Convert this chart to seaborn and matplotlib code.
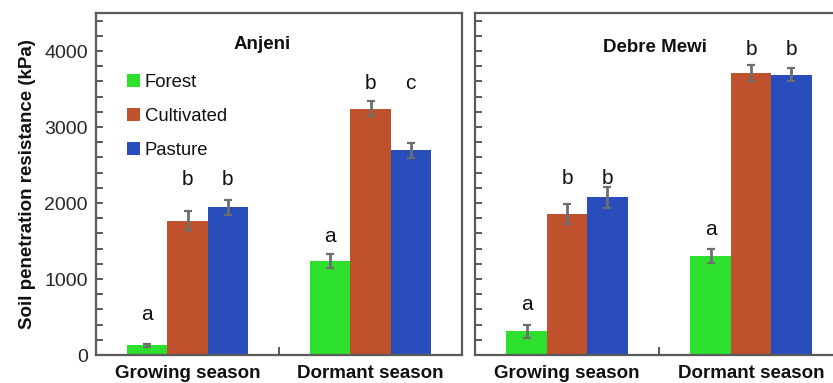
import matplotlib
matplotlib.use("Agg")
import matplotlib.pyplot as plt
import matplotlib.transforms as mtransforms
import numpy as np
import pandas as pd
import seaborn as sns
from matplotlib.ticker import MultipleLocator, FixedLocator

# ---- data -------------------------------------------------------------
seasons = ["Growing season", "Dormant season"]
land_uses = ["Forest", "Cultivated", "Pasture"]
palette = ["#2EE02E", "#BF512C", "#2A4DBC"]

# mean soil penetration resistance (kPa), per season: Forest, Cultivated, Pasture
anjeni_growing = [130, 1766, 1941]
anjeni_dormant = [1235, 3242, 2694]
anjeni_growing_se = [20, 125, 100]
anjeni_dormant_se = [88, 95, 100]

debre_growing = [315, 1853, 2077]
debre_dormant = [1301, 3711, 3685]
debre_growing_se = [85, 135, 140]
debre_dormant_se = [90, 110, 85]

# significance letters and the baseline height (kPa) they are written at
anjeni_letters = [["a", "b", "b"], ["a", "b", "c"]]
anjeni_letter_y = [[460, 2234, 2234], [1490, 3505, 3505]]
debre_letters = [["a", "b", "b"], ["a", "b", "b"]]
debre_letter_y = [[591, 2256, 2256], [1577, 3943, 3943]]

sites = [
    ("Anjeni", [anjeni_growing, anjeni_dormant], [anjeni_growing_se, anjeni_dormant_se],
     anjeni_letters, anjeni_letter_y, 0.454, 4022),
    ("Debre Mewi", [debre_growing, debre_dormant], [debre_growing_se, debre_dormant_se],
     debre_letters, debre_letter_y, 0.489, 3987),
]

# ---- style ------------------------------------------------------------
sns.set_style("white")
plt.rcParams["font.family"] = ["Liberation Sans", "DejaVu Sans"]
spine_col = "#5a5a5a"
err_col = "#6e6e6e"
text_col = "#111111"

W, H = 833, 383
fig = plt.figure(figsize=(W / 100, H / 100), dpi=100)
axes = [
    fig.add_axes([96 / W, 28 / H, 366 / W, 342 / H]),
    fig.add_axes([475 / W, 28 / H, 368 / W, 342 / H]),
]

for i, (ax, (name, means, ses, letters, letter_y, tx, ty)) in enumerate(zip(axes, sites)):
    df = pd.DataFrame({
        "Season": np.repeat(seasons, len(land_uses)),
        "Land use": land_uses * len(seasons),
        "Resistance": np.concatenate(means),
    })
    sns.barplot(data=df, x="Season", y="Resistance", hue="Land use",
                order=seasons, hue_order=land_uses, palette=palette,
                width=0.66, errorbar=None, saturation=1, ax=ax,
                linewidth=0, legend=(i == 0))

    # error bars and letters at the centre of each drawn bar
    bars = ax.patches[:len(seasons) * len(land_uses)]
    for h in range(len(land_uses)):
        for s in range(len(seasons)):
            bar = bars[h * len(seasons) + s]
            cx = bar.get_x() + bar.get_width() / 2
            ax.errorbar(cx, means[s][h], yerr=ses[s][h], color=err_col,
                        lw=2, capsize=3.2, capthick=1.6, zorder=5)
            ax.text(cx, letter_y[s][h], letters[s][h], ha="center",
                    va="baseline", fontsize=15, color=text_col)

    trans = mtransforms.blended_transform_factory(ax.transAxes, ax.transData)
    ax.text(tx, ty, name, transform=trans, ha="center", va="baseline",
            fontsize=13.5, fontweight="bold", color=text_col)

    ax.set_xlim(-0.5, 1.5)
    ax.set_ylim(0, 4500)
    ax.set_xlabel("")
    ax.set_ylabel("")

    # y ticks: every 200 kPa, inward
    ax.yaxis.set_major_locator(MultipleLocator(1000))
    ax.yaxis.set_minor_locator(MultipleLocator(200))
    ax.tick_params(axis="y", which="both", direction="in", length=5, width=1.4,
                   color=spine_col, left=True, right=False, labelsize=14, pad=6)
    if i > 0:
        ax.tick_params(axis="y", labelleft=False)

    # x: labels under groups, one small divider tick between them
    ax.xaxis.set_major_locator(FixedLocator([0, 1]))
    ax.set_xticklabels(seasons)
    ax.xaxis.set_minor_locator(FixedLocator([0.5]))
    ax.tick_params(axis="x", which="major", length=0, pad=7)
    ax.tick_params(axis="x", which="minor", direction="in", length=6, width=1.4,
                   color=spine_col, bottom=True)
    for lab in ax.get_xticklabels():
        lab.set_fontweight("bold")
        lab.set_fontsize(13.5)
        lab.set_color(text_col)

    for sp in ax.spines.values():
        sp.set_color(spine_col)
        sp.set_linewidth(1.6)

axes[0].set_ylabel("Soil penetration resistance (kPa)", fontsize=13.5,
                   fontweight="bold", color=text_col, labelpad=6)

leg = axes[0].legend(loc="upper left", bbox_to_anchor=(0.065, 0.842), frameon=False,
                     fontsize=13.3, handlelength=0.7, handleheight=0.7,
                     handletextpad=0.25, labelspacing=0.92, borderaxespad=0,
                     title=None)
for t in leg.get_texts():
    t.set_color(text_col)

fig.savefig("out.png", dpi=100)
